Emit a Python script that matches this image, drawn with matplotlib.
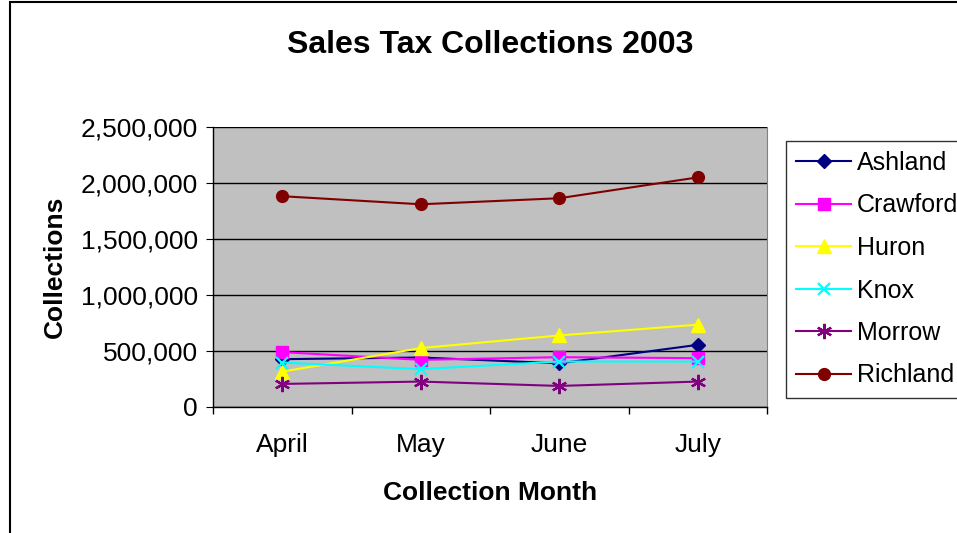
import numpy as np
import matplotlib.pyplot as plt
from matplotlib.ticker import FuncFormatter, FixedLocator
from matplotlib.patches import Rectangle

plt.rcParams['font.family'] = ['Liberation Sans', 'DejaVu Sans']

# monthly collections per county
months = ['April', 'May', 'June', 'July']
ashland = [427000, 442000, 390000, 555000]
crawford = [490000, 421000, 445000, 436000]
huron = [316000, 526000, 639000, 735000]
knox = [397000, 338000, 406000, 406000]
morrow = [206000, 227000, 188000, 227000]
richland = [1882000, 1810000, 1864000, 2050000]

series = [
    ('Ashland', ashland, '#000080', 'D', 7),
    ('Crawford', crawford, '#FF00FF', 's', 8),
    ('Huron', huron, '#FFFF00', '^', 10),
    ('Knox', knox, '#00FFFF', 'x', 9),
    ('Morrow', morrow, '#800080', (6, 2, 0), 11),
    ('Richland', richland, '#800000', 'o', 8.5),
]

W, H = 957, 533
fig = plt.figure(figsize=(W / 100, H / 100), dpi=100)
ax = fig.add_axes([213 / W, 1 - 407 / H, 554 / W, 280 / H])
ax.set_facecolor('#C0C0C0')

# outer chart frame
fig.patches.append(Rectangle((10 / W, -0.01), 1.0, 1 - 2 / H + 0.01,
                             transform=fig.transFigure, fill=False,
                             edgecolor='black', linewidth=1.5))

x = np.arange(len(months))
for name, vals, color, marker, ms in series:
    ax.plot(x, vals, color=color, marker=marker, markersize=ms,
            markeredgecolor=color,
            markeredgewidth=1.6 if marker in ('x', (6, 2, 0)) else 1,
            linewidth=1.5, label=name)

ax.set_xlim(-0.5, 3.5)
ax.set_ylim(0, 2500000)
ax.set_xticks(x)
ax.set_xticklabels(months)
ax.xaxis.set_minor_locator(FixedLocator(np.arange(-0.5, 4, 1)))
ax.tick_params(axis='x', which='major', length=0, pad=19, labelsize=19)
ax.tick_params(axis='x', which='minor', length=5, direction='out', width=1)
ax.set_yticks(np.arange(0, 2500001, 500000))
ax.yaxis.set_major_formatter(FuncFormatter(lambda v, p: f'{int(v):,}'))
ax.tick_params(axis='y', length=5, direction='out', labelsize=19, pad=6)
ax.grid(axis='y', color='black', linewidth=1)
ax.set_axisbelow(True)
ax.spines['top'].set_visible(False)
ax.spines['right'].set_color('#808080')
for side in ('left', 'bottom'):
    ax.spines[side].set_linewidth(1)

ax.set_xlabel('Collection Month', fontsize=19, fontweight='bold', labelpad=17)
ax.set_ylabel('Collections', fontsize=19, fontweight='bold', labelpad=10)
fig.text(490 / W, 1 - 45 / H, 'Sales Tax Collections 2003', ha='center', va='center',
         fontsize=23, fontweight='bold')

leg = fig.legend(loc='upper left', bbox_to_anchor=(786 / W, 1 - 141 / H),
                 fontsize=18, frameon=True, fancybox=False, edgecolor='black',
                 handlelength=2.2, labelspacing=0.74, borderpad=0.4,
                 handletextpad=0.25, borderaxespad=0)
leg.get_frame().set_linewidth(1)

fig.savefig('out.png', dpi=100)
